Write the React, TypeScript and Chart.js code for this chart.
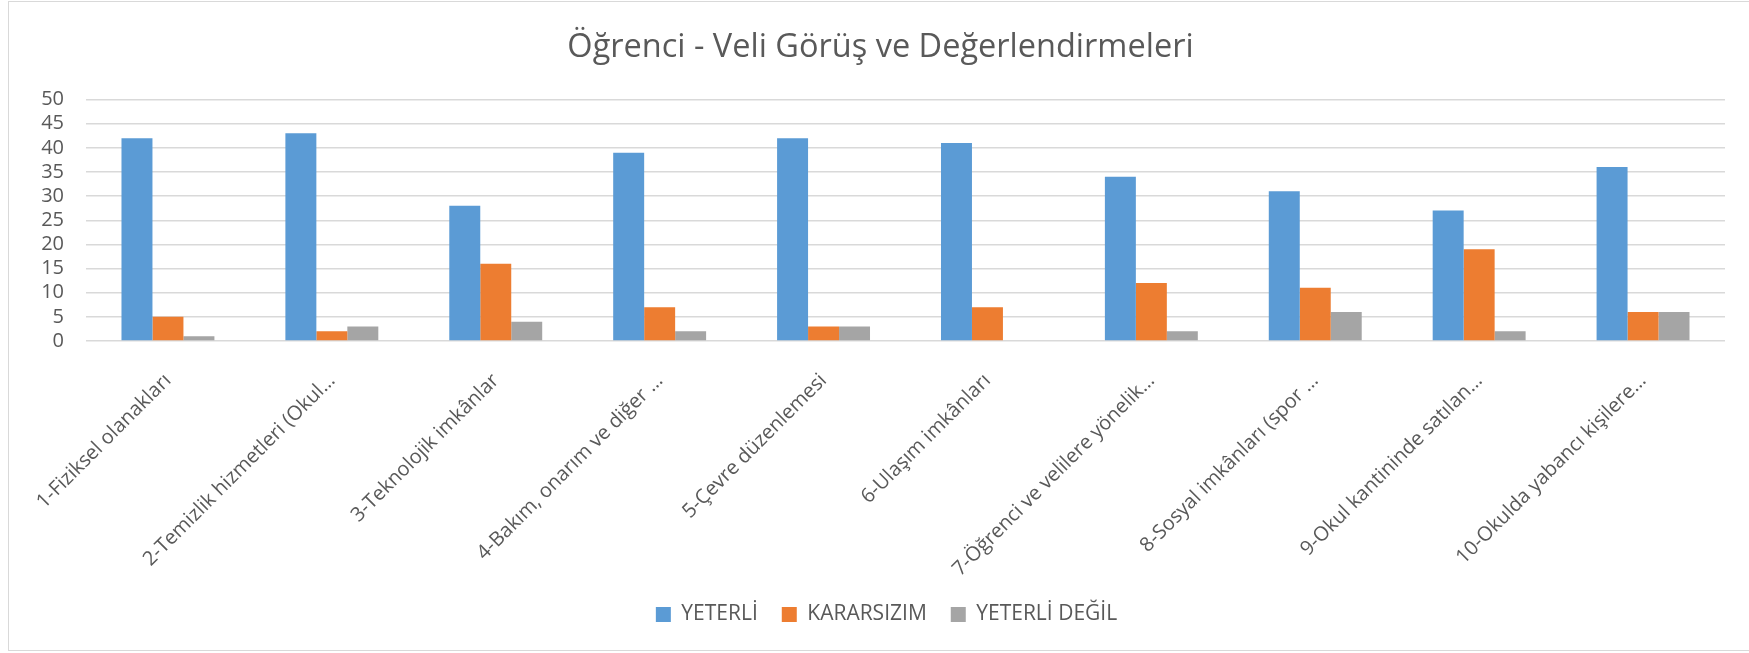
import React, { useEffect, useRef } from "react";
import { Chart, registerables } from "chart.js";

Chart.register(...registerables);

const categories = [
  "1-Fiziksel olanakları",
  "2-Temizlik hizmetleri (Okul…",
  "3-Teknolojik imkânlar",
  "4-Bakım, onarım ve diğer …",
  "5-Çevre düzenlemesi",
  "6-Ulaşım imkânları",
  "7-Öğrenci ve velilere yönelik…",
  "8-Sosyal imkânları (spor …",
  "9-Okul kantininde satılan…",
  "10-Okulda yabancı kişilere…",
];

const yeterli = [42, 43, 28, 39, 42, 41, 34, 31, 27, 36];
const kararsizim = [5, 2, 16, 7, 3, 7, 12, 11, 19, 6];
const yeterliDegil = [1, 3, 4, 2, 3, 0, 2, 6, 2, 6];

const seriesNames = ["YETERLİ", "KARARSIZIM", "YETERLİ DEĞİL"];
const seriesColors = ["#5B9BD5", "#ED7D31", "#A5A5A5"];
const titleText = "Öğrenci - Veli Görüş ve Değerlendirmeleri";

const W = 1749;
const H = 653;
const FONT = "'Open Sans', 'DejaVu Sans', sans-serif";
const TEXT = "#595959";

const shiftBoxes = {
  id: "shiftBoxes",
  afterLayout(chart: any) {
    const lg = chart.legend;
    if (lg) {
      lg.left += 24;
      lg.right += 24;
    }
    const tb = chart.titleBlock;
    if (tb) {
      tb.left += 18;
      tb.right += 18;
    }
  },
};

export default function App() {
  const ref = useRef<HTMLCanvasElement | null>(null);

  useEffect(() => {
    document.body.style.margin = "0";
    if (!ref.current) return;
    const chart = new Chart(ref.current, {
      type: "bar",
      data: {
        labels: categories,
        datasets: [yeterli, kararsizim, yeterliDegil].map((d, i) => ({
          label: seriesNames[i],
          data: d,
          backgroundColor: seriesColors[i],
          borderWidth: 0,
          categoryPercentage: 0.567,
          barPercentage: 1.0,
        })),
      },
      plugins: [shiftBoxes],
      options: {
        animation: false,
        responsive: false,
        maintainAspectRatio: false,
        layout: { padding: { left: 0, right: 24, top: 0, bottom: 18 } },
        plugins: {
          title: {
            display: true,
            text: titleText,
            color: TEXT,
            font: { family: FONT, size: 32.5, weight: "normal", lineHeight: 1.2 },
            padding: { top: 28, bottom: 32.5 },
          },
          legend: {
            position: "bottom",
            labels: {
              boxWidth: 15,
              boxHeight: 15,
              padding: 24,
              color: TEXT,
              font: { family: FONT, size: 21 },
            },
          },
          tooltip: { enabled: false },
        },
        scales: {
          x: {
            grid: { display: false },
            border: { display: false },
            ticks: {
              minRotation: 45,
              maxRotation: 45,
              autoSkip: false,
              padding: 20,
              color: TEXT,
              font: { family: FONT, size: 20 },
            },
            afterFit: (s: any) => {
              s.height = 239;
            },
          },
          y: {
            min: 0,
            max: 50,
            ticks: {
              stepSize: 5,
              autoSkip: false,
              padding: 22,
              color: TEXT,
              font: { family: FONT, size: 20 },
            },
            grid: { color: "#d9d9d9", lineWidth: 1.5, drawTicks: false },
            border: { display: false },
            afterFit: (s: any) => {
              s.width = 86;
            },
          },
        },
      },
    });
    return () => chart.destroy();
  }, []);

  return (
    <div style={{ position: "relative", width: W, height: H, overflow: "hidden", background: "#fff" }}>
      <div
        style={{
          position: "absolute",
          left: 8,
          top: 1,
          width: W + 20,
          height: 650,
          boxSizing: "border-box",
          border: "1px solid #d9d9d9",
        }}
      />
      <canvas ref={ref} width={W} height={H} style={{ position: "absolute", left: 0, top: 0, width: W, height: H }} />
    </div>
  );
}
